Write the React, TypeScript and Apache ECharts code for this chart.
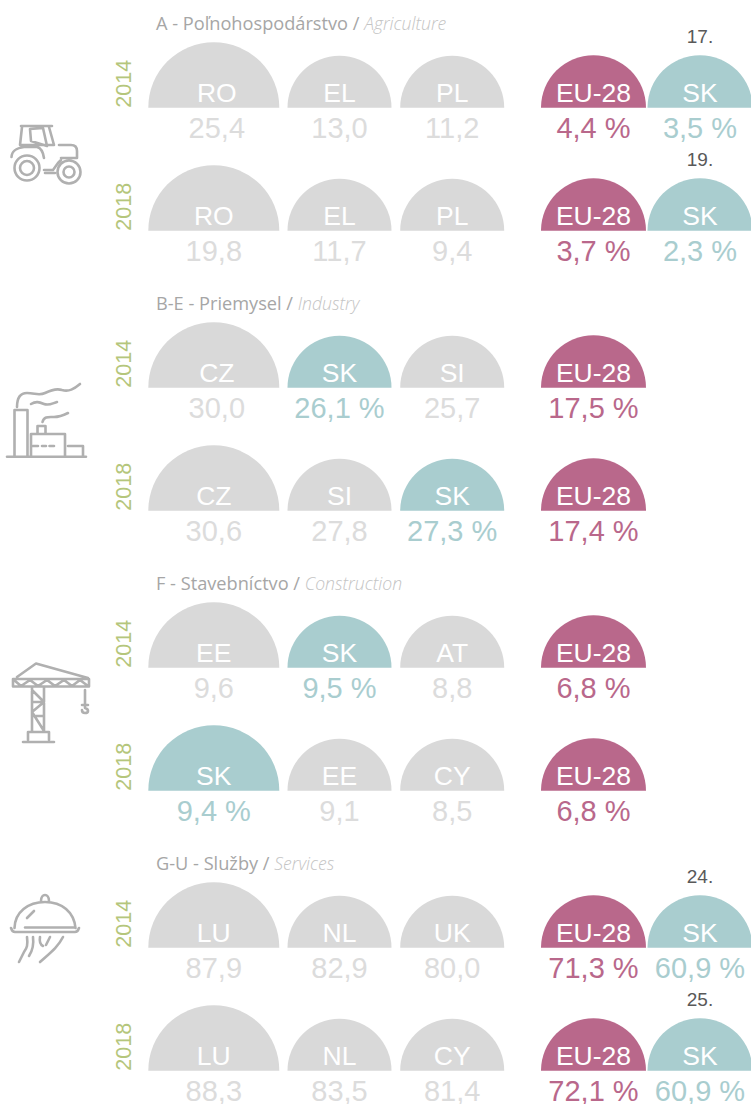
import React, { useEffect, useRef } from "react";
import * as echarts from "echarts";

const sectionTitles = ["A - Poľnohospodárstvo", "B-E - Priemysel", "F - Stavebníctvo", "G-U - Služby"];
const sectionTitlesEn = ["Agriculture", "Industry", "Construction", "Services"];
const years = ["2014", "2018"];
const rowCodes = [
  ["RO", "EL", "PL", "EU-28", "SK"],
  ["RO", "EL", "PL", "EU-28", "SK"],
  ["CZ", "SK", "SI", "EU-28"],
  ["CZ", "SI", "SK", "EU-28"],
  ["EE", "SK", "AT", "EU-28"],
  ["SK", "EE", "CY", "EU-28"],
  ["LU", "NL", "UK", "EU-28", "SK"],
  ["LU", "NL", "CY", "EU-28", "SK"],
];
const rowValues = [
  [25.4, 13.0, 11.2, 4.4, 3.5],
  [19.8, 11.7, 9.4, 3.7, 2.3],
  [30.0, 26.1, 25.7, 17.5],
  [30.6, 27.8, 27.3, 17.4],
  [9.6, 9.5, 8.8, 6.8],
  [9.4, 9.1, 8.5, 6.8],
  [87.9, 82.9, 80.0, 71.3, 60.9],
  [88.3, 83.5, 81.4, 72.1, 60.9],
];
const rowRanks = ["17.", "19.", "", "", "", "", "24.", "25."];

// layout
const W = 751;
const H = 1104;
const rowBase = [107.7, 230.7, 387.7, 510.7, 667.7, 790.7, 947.7, 1070.7];
const slotX = [213.8, 339.5, 452.2, 593.5, 700];
const slotR = [65.5, 52, 52, 52.5, 52.5];
const titleY = [22.5, 302.5, 582.5, 862.5];
const labelShift: Record<string, number> = { "0-0": 3, "2-0": 3 };

const C = {
  gray: "#d9d9d9",
  grayText: "#dcdcdc",
  teal: "#a9cdcf",
  rose: "#b9688b",
  year: "#b5c67c",
  rank: "#595959",
  icon: "#b0b0b0",
};
const FONT = '"Liberation Sans", Arial, sans-serif';

const iconPaths: Record<string, string> = {
  tractor:
    "M21 126 H52 M22 127 L20 145 H54 L49 127 M30 129 L31 141 L47 146 L43 128 Z " +
    "M59 145 H71 C75 145 77 147 77 151 V158 H61 M11.5 157 C12 150 17 148 24 147 H37 C41 148 43 151 44 158 " +
    "M44 170 H53 L58 163 L61 160 M45 173 H55 " +
    "M39.5 168 A12.5 12.5 0 1 1 14.5 168 A12.5 12.5 0 1 1 39.5 168 Z " +
    "M34 168 A7 7 0 1 1 20 168 A7 7 0 1 1 34 168 Z " +
    "M80.5 172 A11.5 11.5 0 1 1 57.5 172 A11.5 11.5 0 1 1 80.5 172 Z " +
    "M74.5 172 A5.5 5.5 0 1 1 63.5 172 A5.5 5.5 0 1 1 74.5 172 Z",
  factory:
    "M7 456.7 H86 M14.5 456.7 V410 H27.5 V456.7 M31 456.7 V434 H65 V456.7 M37.5 434 V426 H45.5 V434 M68 446 H83 V456.7 " +
    "M33 446 H38 M42 446 H46 M49.5 446 H54 " +
    "M17 407 C17 398 20 393 27 393 C35 393 39 396 45 393 C51 390 56 388 62 390 C69 392 74 389 80 384 " +
    "M31 404 C36 401 39 402 44 404 C49 406 53 403 57 402 " +
    "M42.5 422 C44 416 49 417 54 417 C60 417 64 415 68 413",
  crane:
    "M17 677 L36 663.5 L88 678 M13 679 H89 V686.5 H13 Z " +
    "M14 680 L21 686 L30 680 L38 686 L47 680 L55 686 L64 680 L72 686 L80 680 L88 686 " +
    "M32 687 V731 M44 687 V731 M32 690 L44 702 L32 712 L44 731 M32 702 H44 M32 716 H44 " +
    "M28 740 V732 H49 V740 M23 742 H54 " +
    "M85 690 V705 M82 705 H88 M85 705 V708 C89 709 89 713 85 713 C83 713 82 712 82 710",
  cloche:
    "M14.5 928 C15 912 28 902 45 902 C62 902 74 912 75.5 928 M11 928 C12 931 13 932 15 932 H75 C77 932 78 931 79 928 " +
    "M25 927.5 H75 M27 918 L34 911 M41 901 C41 893 49 893 49 901 " +
    "M27 937 C28 945 27 948 24 952 C22 956 21 958 19 962 M33 937 C34 945 33 950 29 956 " +
    "M40 937 C39 943 41 945 43 946 M50 937 L46 945 M63 937 C58 947 50 953 40 962",
};
Object.keys(iconPaths).forEach((k) => {
  echarts.graphic.registerShape("icon-" + k, echarts.graphic.extendPath(iconPaths[k] as any, {} as any) as any);
});

const colorOf = (code: string) => (code === "SK" ? C.teal : code === "EU-28" ? C.rose : C.gray);
const isOwn = (code: string) => code === "SK" || code === "EU-28";
const fmt = (v: number, code: string) => v.toFixed(1).replace(".", ",") + (isOwn(code) ? " %" : "");

const domeData: any[] = [];
rowCodes.forEach((codes, r) => {
  codes.forEach((code, s) => {
    domeData.push({
      value: [slotX[s], rowBase[r], slotR[s], rowValues[r][s]],
      code,
      shift: labelShift[r + "-" + s] || 0,
      rank: s === 4 ? rowRanks[r] : "",
    });
  });
});

const yearData = rowBase.map((b, r) => ({ value: [123.5, b], name: years[r % 2] }));

export default function App() {
  const ref = useRef<HTMLDivElement>(null);
  useEffect(() => {
    document.body.style.margin = "0";
    const chart = echarts.init(ref.current!, undefined, { renderer: "svg" });
    chart.setOption({
      animation: false,
      grid: { left: 0, right: 0, top: 0, bottom: 0 },
      xAxis: { type: "value", min: 0, max: W, show: false },
      yAxis: { type: "value", min: 0, max: H, inverse: true, show: false },
      series: [
        {
          type: "custom",
          coordinateSystem: "cartesian2d",
          clip: false,
          silent: true,
          data: domeData,
          encode: { x: 0, y: 1 },
          renderItem: (params: any, api: any) => {
            const d = domeData[params.dataIndex];
            const [cx, cy] = api.coord([api.value(0), api.value(1)]);
            const r = api.size([api.value(2), 0])[0];
            const fill = colorOf(d.code);
            const children: any[] = [
              {
                type: "sector",
                shape: { cx, cy, r, r0: 0, startAngle: Math.PI, endAngle: Math.PI * 2, clockwise: true },
                style: { fill },
              },
              {
                type: "text",
                style: {
                  text: d.code,
                  x: cx + d.shift,
                  y: cy - 14.5,
                  fill: "#ffffff",
                  font: `26.5px ${FONT}`,
                  align: "center",
                  verticalAlign: "middle",
                },
              },
              {
                type: "text",
                style: {
                  text: fmt(api.value(3), d.code),
                  x: cx + d.shift,
                  y: cy + 20,
                  fill: isOwn(d.code) ? fill : C.grayText,
                  font: `29px ${FONT}`,
                  align: "center",
                  verticalAlign: "middle",
                },
              },
            ];
            if (d.rank) {
              children.push({
                type: "text",
                style: {
                  text: d.rank,
                  x: cx,
                  y: cy - 71.5,
                  fill: C.rank,
                  font: `19px ${FONT}`,
                  align: "center",
                  verticalAlign: "middle",
                },
              });
            }
            return { type: "group", children };
          },
        },
        {
          type: "custom",
          coordinateSystem: "cartesian2d",
          clip: false,
          silent: true,
          data: yearData,
          encode: { x: 0, y: 1 },
          renderItem: (params: any, api: any) => {
            const [x, y] = api.coord([api.value(0), api.value(1)]);
            return {
              type: "text",
              x,
              y,
              rotation: Math.PI / 2,
              style: {
                text: yearData[params.dataIndex].name,
                x: 0,
                y: 0,
                fill: C.year,
                font: `21.5px ${FONT}`,
                align: "left",
                verticalAlign: "middle",
              },
            };
          },
        },
      ],
      graphic: [
        ...sectionTitles.map((t, i) => ({
          type: "text",
          x: 156,
          y: titleY[i],
          silent: true,
          style: {
            text: `{a|${t} / }{b|${sectionTitlesEn[i]}}`,
            verticalAlign: "middle",
            align: "left",
            rich: {
              a: { fill: "#a6a6a6", fontFamily: '"Open Sans"', fontSize: 18.2 },
              b: { fill: "#c4c4c4", fontFamily: '"Open Sans"', fontSize: 17.6, fontStyle: "italic", fontWeight: 300 },
            },
          },
        })),
        ...Object.keys(iconPaths).map((k) => ({
          type: "icon-" + k,
          x: 0,
          y: 0,
          silent: true,
          style: { fill: "none", stroke: C.icon, lineWidth: 2.6, lineCap: "round", lineJoin: "round" },
        })),
      ],
    });
    return () => chart.dispose();
  }, []);
  return <div ref={ref} style={{ position: "absolute", left: 0, top: 0, width: W, height: H }} />;
}
